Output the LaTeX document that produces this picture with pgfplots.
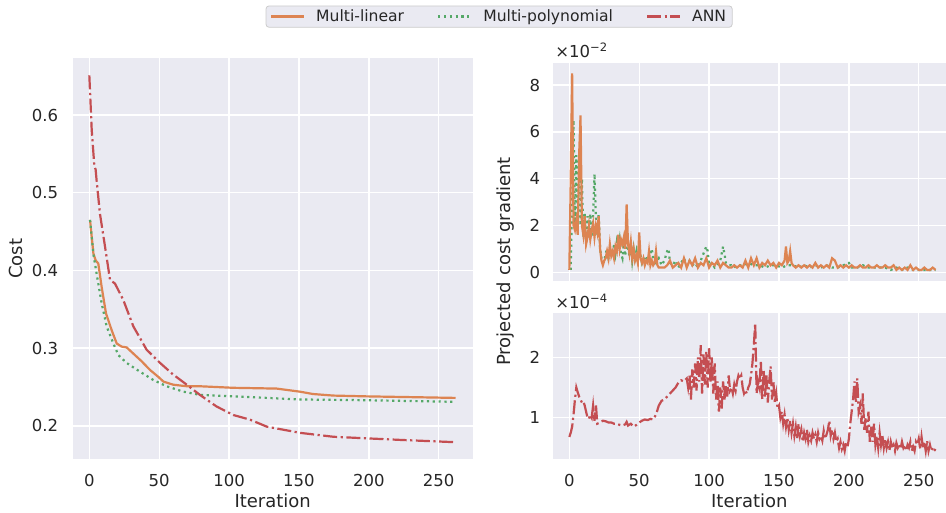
\documentclass[border=0pt]{standalone}
\usepackage{pgfplots}
\pgfplotsset{compat=1.18}
\usepackage{fontspec}
\setmainfont{DejaVu Sans}
\definecolor{bgc}{HTML}{EAEAF2}
\definecolor{txt}{HTML}{262626}
\definecolor{cML}{HTML}{DD8452}
\definecolor{cMP}{HTML}{55A868}
\definecolor{cANN}{HTML}{C44E52}
\definecolor{legedge}{HTML}{CCCCCC}
\pgfplotsset{
  sbstyle/.style={
    scale only axis,
    axis background/.style={fill=bgc},
    axis line style={draw=none},
    major tick length=0pt,
    tick style={draw=none},
    grid=major,
    major grid style={white, line width=1.4pt},
    ticklabel style={font=\fontsize{16.5}{19.8}\selectfont, text=txt},
    /pgf/number format/assume math mode=true,
    xtick={0,50,100,150,200,250},
    xticklabel style={anchor=base, inner sep=0pt, yshift=-27.4pt},
    clip mode=individual,
  },
  mlstyle/.style={cML, line width=2.2pt},
  mpstyle/.style={cMP, line width=2.2pt, dash pattern=on 2.2pt off 3.6pt},
  annstyle/.style={cANN, line width=2.2pt, dash pattern=on 14pt off 3.5pt on 2.2pt off 3.5pt},
}
\begin{document}
\begin{tikzpicture}
% ---------------- Left: Cost ----------------
\begin{axis}[sbstyle,
  at={(72.7pt,52.7pt)}, anchor=south west,
  width=400pt, height=401pt,
  xmin=-11.9, xmax=274.3, ymin=0.157, ymax=0.673,
  ytick={0.2,0.3,0.4,0.5,0.6},
  yticklabels={0.2,0.3,0.4,0.5,0.6},
  xticklabels={0,50,100,150,200,250},
  yticklabel style={anchor=east, inner sep=0pt, xshift=-14.5pt},
  xlabel={Iteration}, ylabel={Cost},
  every axis x label/.style={at={(axis description cs:0.5,-0.121)}, anchor=base, inner sep=0pt,
    font=\fontsize{18}{21.6}\selectfont, text=txt},
  every axis y label/.style={at={(axis description cs:-0.142,0.5)}, rotate=90, anchor=center,
    inner sep=0pt, font=\fontsize{18}{21.6}\selectfont, text=txt},
  legend columns=3,
  legend cell align=left,
  legend image code/.code={\draw[#1] (0pt,0pt) -- (33pt,0pt); \path (42pt,0pt);},
  legend style={at={(axis description cs:1.066,1.104)}, anchor=center,
    draw=legedge, fill=bgc, rounded corners=3pt, line width=0.8pt,
    font=\fontsize{15.6}{18.7}\selectfont, text=txt,
    inner xsep=4pt, inner ysep=2pt,
    /tikz/every even column/.append style={column sep=31pt}},
]
\addplot[mlstyle] coordinates {
(0.5,0.465) (2.9,0.422) (4.5,0.413) (6.4,0.409) (8.8,0.379) (11.9,0.345) (16,0.323)
(19.6,0.306) (23.1,0.302) (26.7,0.301) (31.5,0.293) (37.5,0.283) (43.4,0.272)
(49.4,0.263) (53,0.257) (60,0.253) (69.7,0.251) (79,0.251) (103,0.249) (134,0.248)
(150.8,0.244) (160,0.241) (174.6,0.239) (198,0.238) (230,0.237) (262,0.236)
};
\addlegendentry{Multi-linear}
\addplot[mpstyle] coordinates {
(0.5,0.465) (3,0.42) (5.2,0.396) (8.8,0.358) (12.4,0.328) (17.2,0.306) (20.8,0.291)
(26.7,0.281) (36,0.270) (45.8,0.259) (55.3,0.251) (67.3,0.244) (79,0.240) (103,0.238)
(151,0.234) (198,0.233) (230,0.232) (260.5,0.231)
};
\addlegendentry{Multi-polynomial}
\addplot[annstyle] coordinates {
(0,0.651) (1.7,0.581) (3.6,0.534) (4.5,0.53) (5.2,0.516) (7.6,0.473) (11.2,0.431)
(14.8,0.388) (18.4,0.383) (24.3,0.362) (31.5,0.328) (41,0.298) (50.6,0.281) (60,0.266)
(69.7,0.253) (79,0.240) (91,0.225) (103,0.214) (115,0.208) (127,0.199) (139,0.195)
(151,0.191) (174.6,0.186) (198,0.184) (222,0.182) (262,0.179)
};
\addlegendentry{ANN}
\end{axis}
% ---------------- Right top: gradient of ML / MP ----------------
\begin{axis}[sbstyle,
  at={(552.7pt,231.3pt)}, anchor=south west,
  width=393.3pt, height=217.4pt,
  xmin=-11.9, xmax=269.5, ymin=-0.36, ymax=8.93,
  ytick={0,2,4,6,8}, yticklabels={0,2,4,6,8},
  xticklabels={},
  yticklabel style={anchor=east, inner sep=0pt, xshift=-12.5pt},
]
\addplot[mpstyle] coordinates {
(1,0.1) (2,3.0) (3,6.5) (4,2.0) (5,5.0) (6,2.5) (7,4.8) (8,2.0) (9,4.0) (10,1.5)
(11,2.5) (12,1.3) (13,2.4) (14,1.8) (15,2.5) (16,1.5) (17,2.4) (18,4.2) (19,2.4) (20,1.6)
(21,2.5) (22,1.0) (23,0.6) (24,0.4) (25,0.5) (26,0.8) (27,1.0) (28,0.6) (29,0.8) (30,0.9)
(31,0.7) (32,1.2) (33,0.8) (34,1.3) (35,1.0) (36,1.4) (37,0.8) (38,0.6) (39,1.2) (40,0.7)
(41,1.4) (42,1.0) (43,0.7) (44,1.2) (45,0.5) (46,1.0) (47,0.6) (48,0.9) (49,0.5) (50,1.0)
(52,0.4) (54,0.7) (56,0.5) (58,0.8) (59,1.0) (60,0.6) (62,0.4) (64,0.6) (66,0.3) (68,0.5)
(70,0.9) (71,1.0) (72,0.4) (74,0.3) (76,0.5) (78,0.2) (80,0.4) (82,0.6) (84,0.3) (86,0.5)
(88,0.3) (90,0.4) (92,0.2) (94,0.5) (96,0.8) (98,1.1) (99,0.9) (100,0.3) (102,0.4) (104,0.2)
(106,0.3) (108,0.5) (110,1.1) (111,0.8) (112,0.4) (114,0.3) (116,0.3) (118,0.2) (120,0.3)
(124,0.3) (128,0.4) (132,0.3) (136,0.3) (140,0.2) (144,0.3) (148,0.3) (152,0.2) (156,0.3)
(160,0.3) (164,0.2) (168,0.3) (172,0.2) (176,0.3) (180,0.2) (184,0.3) (188,0.2) (192,0.2)
(196,0.3) (200,0.4) (202,0.2) (206,0.2) (210,0.3) (214,0.2) (218,0.2) (222,0.2) (226,0.2)
(230,0.1) (234,0.2) (238,0.1) (242,0.2) (246,0.1) (250,0.1) (254,0.1) (258,0.1) (262,0.1)
};
\addplot[mlstyle] coordinates {
(0,0.1) (1,4.0) (2,8.5) (3,2.0) (4,1.8) (5,2.2) (6,1.6) (7,5.0) (8,6.7) (9,2.0) (10,1.6)
(11,2.4) (12,1.2) (13,1.5) (14,2.0) (15,1.4) (16,1.8) (17,2.1) (18,1.5) (19,2.0) (20,1.7)
(21,2.4) (22,1.0) (23,0.5) (24,0.3) (25,0.5) (26,0.6) (27,0.9) (28,0.6) (29,1.2) (30,0.7)
(31,0.9) (32,0.6) (33,1.1) (34,0.9) (35,1.6) (36,1.0) (37,1.4) (38,1.2) (39,1.5) (40,1.0)
(41,2.9) (42,1.2) (43,0.8) (44,1.3) (45,0.6) (46,1.0) (47,0.5) (48,0.7) (49,0.4) (50,1.7)
(51,0.6) (52,0.4) (53,0.6) (54,0.3) (55,0.5) (56,0.4) (57,0.9) (58,0.3) (59,0.5) (60,0.3)
(61,0.4) (62,0.9) (63,0.3) (64,0.2) (66,0.2) (68,0.2) (70,0.3) (72,0.5) (74,0.2) (76,0.3)
(78,0.4) (80,0.2) (82,0.6) (84,0.2) (86,0.5) (88,0.3) (90,0.6) (92,0.2) (94,0.4) (96,0.3)
(98,0.6) (100,0.2) (102,0.4) (104,0.3) (106,0.5) (108,0.2) (110,0.4) (112,0.3) (114,0.2)
(116,0.2) (118,0.3) (120,0.2) (122,0.3) (124,0.2) (126,0.5) (128,0.2) (130,0.6) (132,0.3)
(134,0.6) (136,0.2) (138,0.4) (140,0.3) (142,0.5) (144,0.3) (146,0.4) (148,0.2) (150,0.4)
(152,0.3) (154,0.5) (155,1.1) (156,0.4) (157,0.5) (158,0.9) (159,0.4) (160,0.3) (162,0.2)
(164,0.3) (166,0.2) (168,0.3) (170,0.2) (172,0.3) (174,0.2) (176,0.4) (178,0.2) (180,0.3)
(182,0.2) (184,0.3) (186,0.2) (188,0.6) (190,0.5) (192,0.2) (194,0.3) (196,0.2) (198,0.3)
(200,0.2) (202,0.3) (204,0.2) (206,0.2) (208,0.3) (210,0.2) (212,0.2) (214,0.3) (216,0.2)
(218,0.2) (220,0.3) (222,0.2) (224,0.2) (226,0.3) (228,0.2) (230,0.2) (232,0.3) (234,0.1)
(236,0.2) (238,0.1) (240,0.2) (242,0.1) (244,0.3) (246,0.1) (248,0.2) (250,0.1) (252,0.1)
(254,0.2) (256,0.1) (258,0.1) (260,0.2) (262,0.1)
};
\node[anchor=base west, inner sep=0pt, font=\fontsize{16.5}{19.8}\selectfont, text=txt]
  at (axis description cs:0.006,1) [yshift=6pt] {×10\textsuperscript{−2}};
\end{axis}
% ---------------- Right bottom: gradient of ANN ----------------
\begin{axis}[sbstyle,
  at={(552.7pt,52.7pt)}, anchor=south west,
  width=393.3pt, height=146pt,
  xmin=-11.9, xmax=269.5, ymin=0.31, ymax=2.73,
  ytick={1,2}, yticklabels={1,2},
  xticklabels={0,50,100,150,200,250},
  yticklabel style={anchor=east, inner sep=0pt, xshift=-12.5pt},
  xlabel={Iteration}, ylabel={Projected cost gradient},
  every axis x label/.style={at={(axis description cs:0.5,-0.3324)}, anchor=base, inner sep=0pt,
    font=\fontsize{18}{21.6}\selectfont, text=txt},
  every axis y label/.style={at={(axis description cs:-0.121,1.356)}, rotate=90, anchor=center,
    inner sep=0pt, font=\fontsize{18}{21.6}\selectfont, text=txt},
]
\addplot[annstyle] coordinates {
(0,0.68) (1,0.75) (2,0.85) (3,1.05) (4,1.3) (5,1.5) (6,1.42) (7,1.35) (8,1.3) (9,1.25)
(10,1.27) (11,1.2) (12,1.1) (13,1.0) (14,0.98) (15,1.05) (16,1.0) (17,1.2) (18,0.95) (19,1.22)
(20,0.9) (22,0.92) (24,0.95) (26,0.94) (28,0.92) (30,0.92) (32,0.9) (34,0.9) (36,0.88) (38,0.87)
(40,0.89) (41,0.93) (42,0.87) (44,0.9) (46,0.85) (48,0.88) (50,0.92) (52,0.95) (54,0.97) (56,0.96)
(58,0.98) (60,0.97) (62,1.05) (64,1.2) (66,1.28) (68,1.3) (70,1.35) (72,1.4) (74,1.45) (76,1.5)
(78,1.58) (80,1.62) (82,1.6) (84,1.65) (85,1.5) (86,1.7) (87,1.3) (88,1.8) (89,1.5) (90,1.9)
(91,1.45) (92,2.0) (93,1.6) (94,2.2) (95,1.4) (96,2.05) (97,1.55) (98,2.1) (99,1.5) (100,2.15)
(101,1.6) (102,2.0) (103,1.4) (104,1.9) (105,1.3) (106,1.6) (107,1.1) (108,1.5) (109,1.15) (110,1.6)
(111,1.3) (112,1.55) (113,1.35) (114,1.7) (115,1.45) (116,1.5) (117,1.4) (118,1.55) (119,1.45) (120,1.6)
(121,1.7) (122,1.65) (123,1.7) (124,1.5) (125,1.4) (126,1.45) (127,1.4) (128,1.5) (129,1.55) (130,1.7)
(131,1.9) (132,2.2) (133,2.57) (134,1.4) (135,1.6) (136,1.5) (137,1.95) (138,1.3) (139,1.8) (140,1.35)
(141,1.7) (142,1.25) (143,1.6) (144,1.85) (145,1.3) (146,1.6) (147,1.25) (148,1.4) (149,1.15) (150,1.2)
(151,1.0) (152,1.1) (153,0.9) (154,1.05) (155,0.85) (156,1.0) (157,0.8) (158,0.95) (159,0.75) (160,0.9)
(161,0.7) (162,0.85) (163,0.65) (164,0.9) (165,0.7) (166,0.8) (167,0.6) (168,0.75) (169,0.65) (170,0.8)
(171,0.6) (172,0.7) (173,0.62) (174,0.75) (175,0.65) (176,0.72) (177,0.6) (178,0.75) (179,0.65) (180,0.7)
(181,0.62) (182,0.78) (183,0.65) (184,0.72) (185,0.8) (186,0.95) (187,0.7) (188,0.8) (189,0.65) (190,0.75)
(191,0.6) (192,0.65) (193,0.5) (194,0.6) (195,0.48) (196,0.55) (197,0.45) (198,0.6) (199,0.5) (200,0.65)
(201,0.9) (202,1.1) (203,1.3) (204,1.6) (205,1.25) (206,1.65) (207,1.1) (208,1.2) (209,0.9) (210,1.4)
(211,0.8) (212,1.0) (213,0.75) (214,1.1) (215,0.6) (216,0.85) (217,0.6) (218,0.9) (219,0.55) (220,0.7)
(221,0.5) (222,0.75) (223,0.55) (224,0.7) (225,0.5) (226,0.65) (227,0.5) (228,0.6) (229,0.45) (230,0.6)
(231,0.5) (232,0.55) (233,0.45) (234,0.58) (235,0.5) (236,0.55) (237,0.48) (238,0.6) (239,0.5) (240,0.55)
(241,0.45) (242,0.55) (243,0.5) (244,0.6) (245,0.45) (246,0.52) (247,0.45) (248,0.6) (249,0.55) (250,0.65)
(251,0.48) (252,0.68) (253,0.5) (254,0.6) (255,0.45) (256,0.62) (257,0.45) (258,0.55) (259,0.45) (260,0.5)
(261,0.45) (262,0.48)
};
\node[anchor=base west, inner sep=0pt, font=\fontsize{16.5}{19.8}\selectfont, text=txt]
  at (axis description cs:0.006,1) [yshift=5pt] {×10\textsuperscript{−4}};
\end{axis}
\pgfresetboundingbox
\path (0pt,0pt) rectangle (946pt,512pt);
\end{tikzpicture}
\end{document}
